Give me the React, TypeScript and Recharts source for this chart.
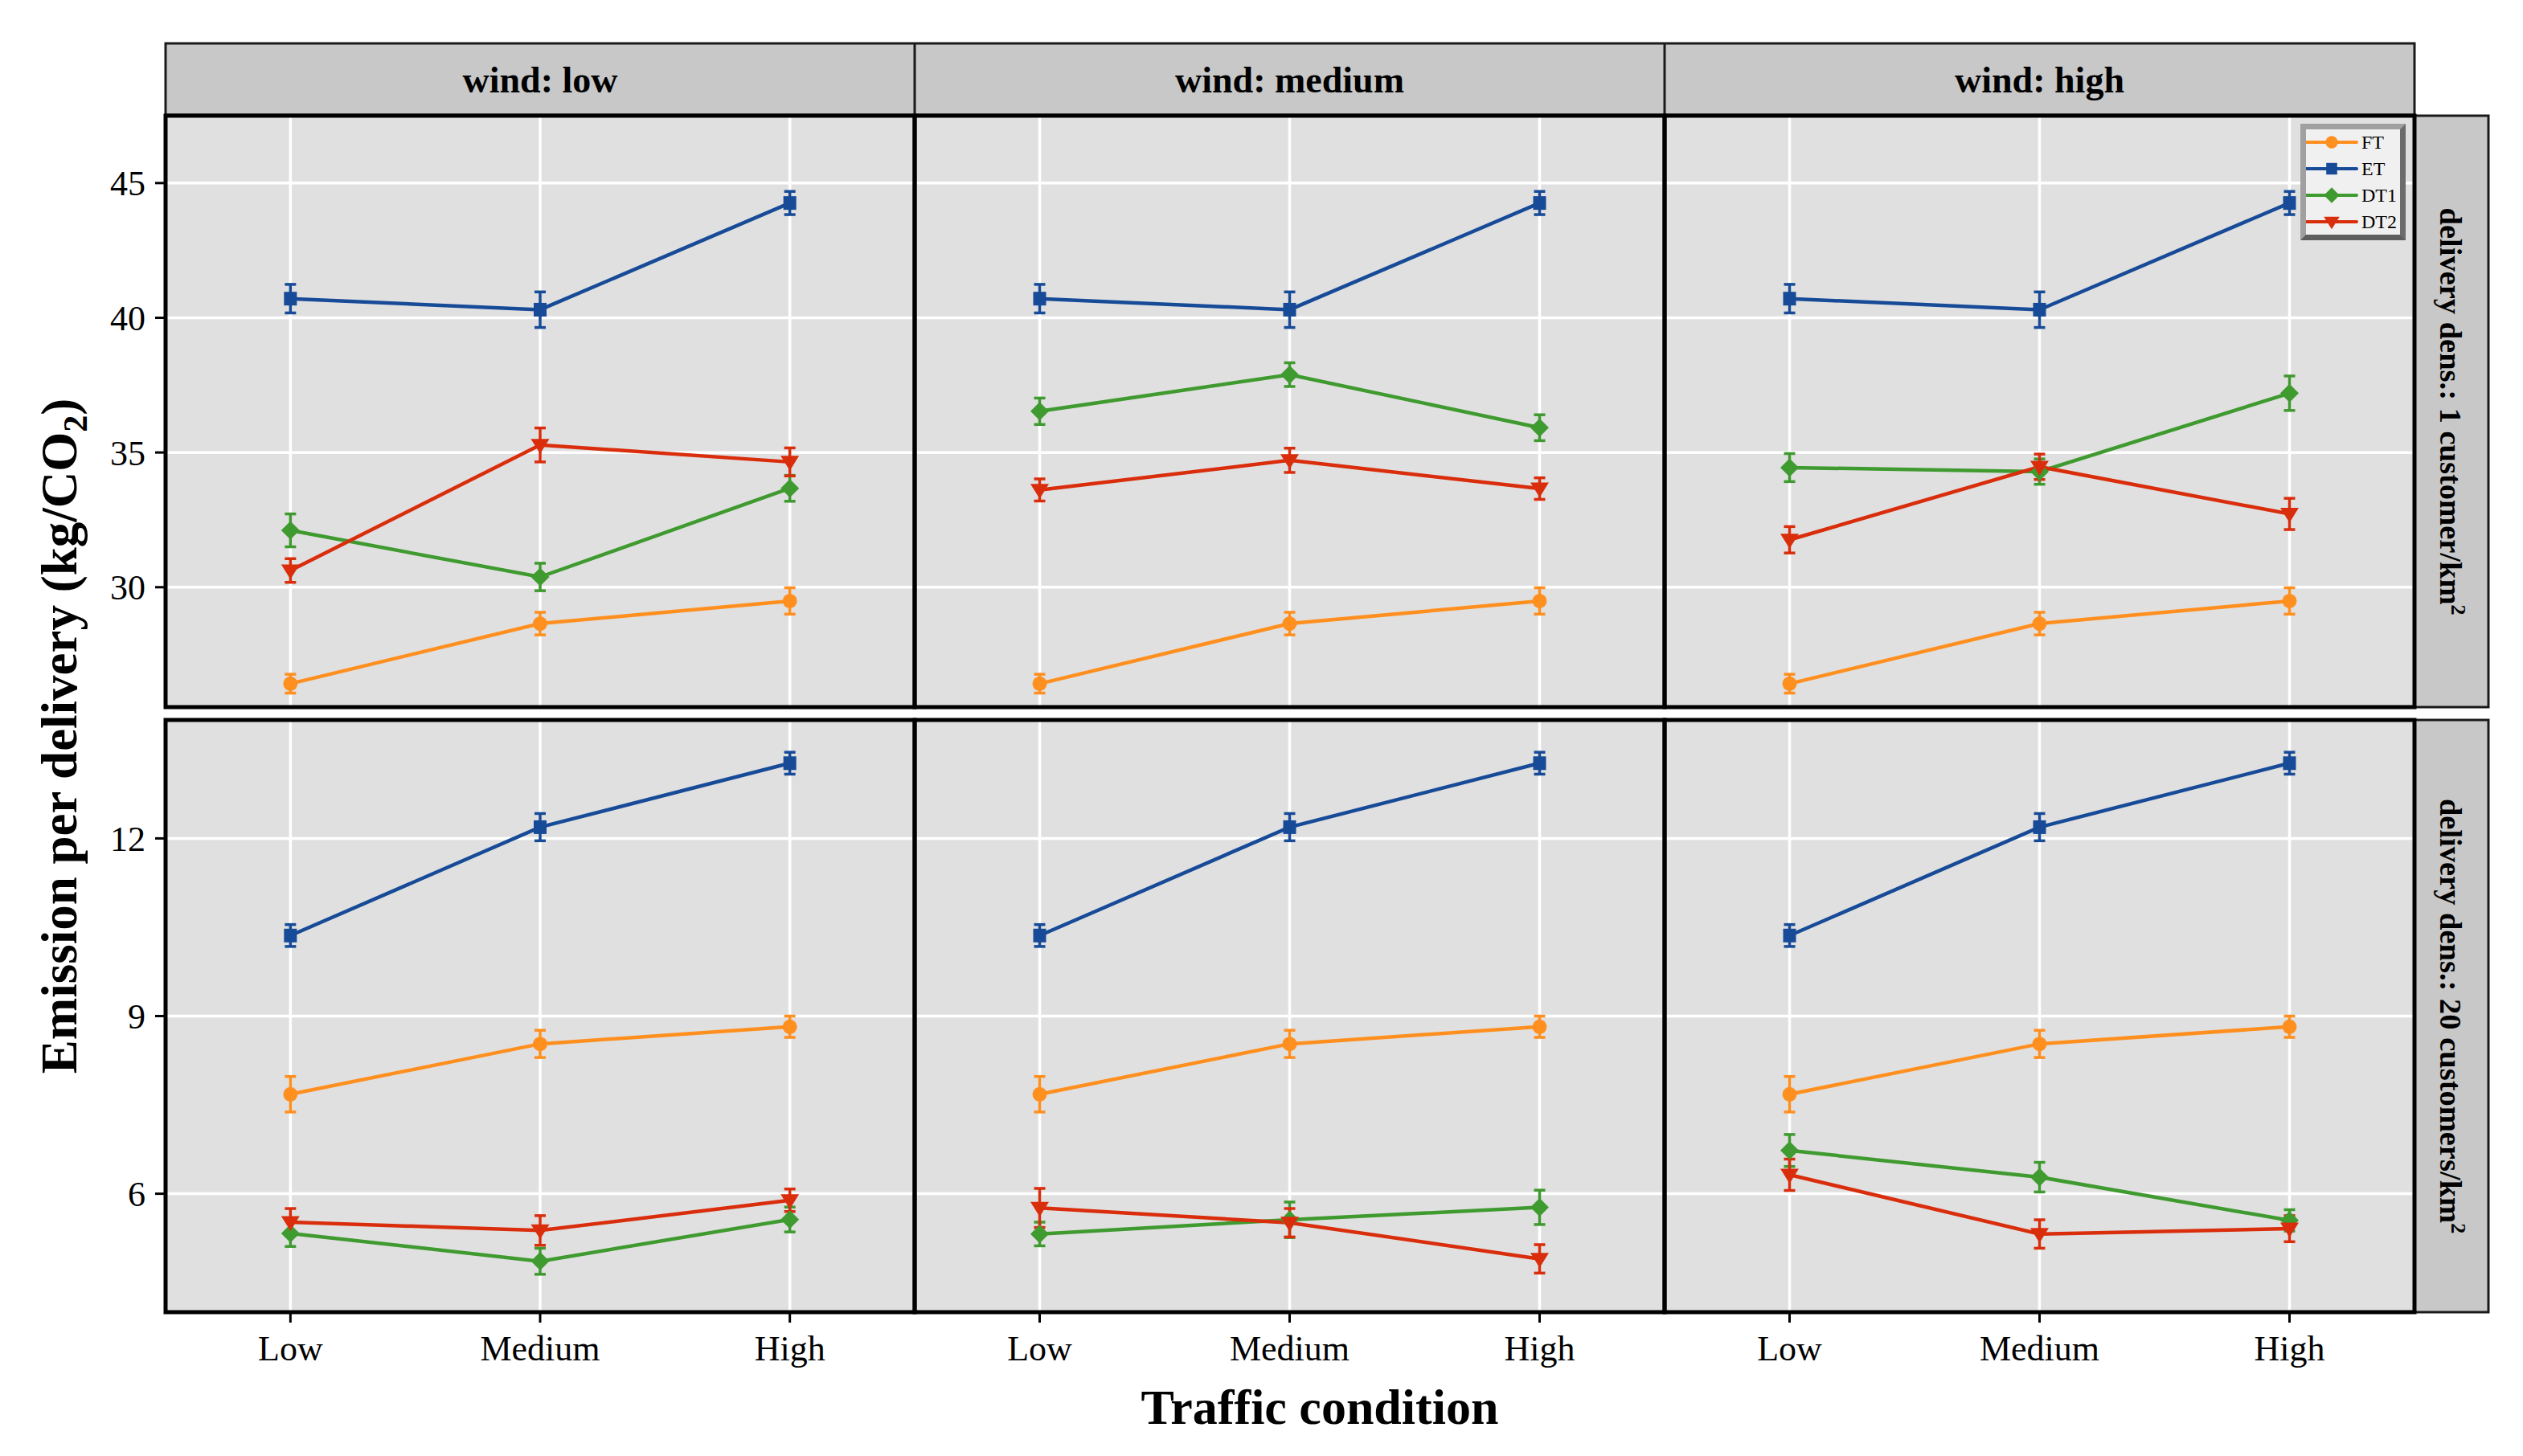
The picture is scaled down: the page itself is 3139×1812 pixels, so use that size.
import React from "react";
import { LineChart, Line, XAxis, YAxis, CartesianGrid, ErrorBar, Legend } from "recharts";

// ---------------- data ----------------
const TRAFFIC_LEVELS = ["Low", "Medium", "High"];
const WIND_LEVELS = ["low", "medium", "high"];
const DENSITY_LABELS = ["1 customer/km", "20 customers/km"];
const SERIES_NAMES = ["FT", "ET", "DT1", "DT2"];

const Y_TICKS_DENS1 = [30, 35, 40, 45];
const Y_DOMAIN_DENS1 = [25.55, 47.5];
const Y_TICKS_DENS20 = [6, 9, 12];
const Y_DOMAIN_DENS20 = [4, 14];

// delivery density 1 customer/km2 (FT and ET identical for every wind level)
const FT_DENS1 = [26.42, 28.65, 29.49];
const FT_DENS1_SE = [0.35, 0.42, 0.49];
const ET_DENS1 = [40.71, 40.3, 44.26];
const ET_DENS1_SE = [0.53, 0.66, 0.43];
const DT1_DENS1 = [
  [32.11, 30.38, 33.67],
  [36.53, 37.89, 35.92],
  [34.44, 34.29, 37.2],
];
const DT1_DENS1_SE = [
  [0.61, 0.51, 0.48],
  [0.49, 0.44, 0.48],
  [0.52, 0.47, 0.64],
];
const DT2_DENS1 = [
  [30.62, 35.28, 34.65],
  [33.61, 34.71, 33.66],
  [31.76, 34.47, 32.72],
];
const DT2_DENS1_SE = [
  [0.44, 0.63, 0.52],
  [0.41, 0.45, 0.4],
  [0.49, 0.47, 0.58],
];

// delivery density 20 customers/km2
const FT_DENS20 = [7.68, 8.53, 8.82];
const FT_DENS20_SE = [0.3, 0.23, 0.18];
const ET_DENS20 = [10.36, 12.19, 13.27];
const ET_DENS20_SE = [0.185, 0.23, 0.185];
const DT1_DENS20 = [
  [5.33, 4.86, 5.565],
  [5.32, 5.56, 5.77],
  [6.73, 6.28, 5.55],
];
const DT1_DENS20_SE = [
  [0.22, 0.22, 0.21],
  [0.2, 0.3, 0.29],
  [0.27, 0.25, 0.18],
];
const DT2_DENS20 = [
  [5.52, 5.38, 5.89],
  [5.76, 5.51, 4.9],
  [6.32, 5.32, 5.41],
];
const DT2_DENS20_SE = [
  [0.23, 0.25, 0.19],
  [0.33, 0.24, 0.24],
  [0.265, 0.24, 0.22],
];

// ---------------- style / layout ----------------
const SERIF = "'Liberation Serif', 'Times New Roman', Times, serif";
const SERIES_COLORS = ["#FF8F1F", "#174B98", "#3F9A2F", "#D92D0C"];
const SERIES_SHAPES = ["circle", "square", "diamond", "triangleDown"];
const COL_EDGES = [206, 1138, 2071, 3004];
const ROW_EDGES = [
  [144, 880],
  [896, 1633],
];
const PANEL_BG = "#E0E0E0";
const STRIP_BG = "#C8C8C8";

function buildData(row: number, wind: number) {
  const ft = row === 0 ? FT_DENS1 : FT_DENS20;
  const ftSe = row === 0 ? FT_DENS1_SE : FT_DENS20_SE;
  const et = row === 0 ? ET_DENS1 : ET_DENS20;
  const etSe = row === 0 ? ET_DENS1_SE : ET_DENS20_SE;
  const d1 = (row === 0 ? DT1_DENS1 : DT1_DENS20)[wind];
  const d1Se = (row === 0 ? DT1_DENS1_SE : DT1_DENS20_SE)[wind];
  const d2 = (row === 0 ? DT2_DENS1 : DT2_DENS20)[wind];
  const d2Se = (row === 0 ? DT2_DENS1_SE : DT2_DENS20_SE)[wind];
  return TRAFFIC_LEVELS.map((t, i) => ({
    idx: i,
    traffic: t,
    FT: ft[i],
    FT_se: ftSe[i],
    ET: et[i],
    ET_se: etSe[i],
    DT1: d1[i],
    DT1_se: d1Se[i],
    DT2: d2[i],
    DT2_se: d2Se[i],
  }));
}

function Marker({ shape, cx, cy, color, s = 1 }: any) {
  switch (shape) {
    case "circle":
      return <circle cx={cx} cy={cy} r={9 * s} fill={color} />;
    case "square":
      return <rect x={cx - 8 * s} y={cy - 8.5 * s} width={16 * s} height={17 * s} fill={color} />;
    case "diamond":
      return (
        <polygon
          points={`${cx},${cy - 11.5 * s} ${cx + 11.5 * s},${cy} ${cx},${cy + 11.5 * s} ${cx - 11.5 * s},${cy}`}
          fill={color}
        />
      );
    default:
      return (
        <polygon
          points={`${cx - 11.5 * s},${cy - 7.5 * s} ${cx + 11.5 * s},${cy - 7.5 * s} ${cx},${cy + 11 * s}`}
          fill={color}
        />
      );
  }
}

function makeDot(shape: string, color: string) {
  return (props: any) => {
    const { cx, cy, index } = props;
    if (cx == null || cy == null) return <g key={`e-${index}`} />;
    return (
      <g key={`d-${shape}-${index}`}>
        <Marker shape={shape} cx={cx} cy={cy} color={color} />
      </g>
    );
  };
}

const emptyTick = (p: any) => <g key={`t-${p && p.index}`} />;

function LegendBox(props: any) {
  const payload = (props && props.payload) || [];
  const items = SERIES_NAMES.map((name, i) => {
    const p = payload.find((e: any) => e.value === name || e.dataKey === name);
    return { name, color: p ? p.color : SERIES_COLORS[i], shape: SERIES_SHAPES[i] };
  });
  return (
    <div
      style={{
        width: 131,
        height: 145,
        boxSizing: "border-box",
        borderStyle: "solid",
        borderWidth: 7,
        borderColor: "#a0a0a0 #6c6c6c #5e5e5e #a0a0a0",
        background: "#F0F0F0",
      }}
    >
      <svg width={117} height={131} style={{ display: "block" }}>
        {items.map((it, i) => {
          const y = 16 + 33 * i;
          return (
            <g key={it.name}>
              <line x1={0} x2={63} y1={y} y2={y} stroke={it.color} strokeWidth={4} strokeLinecap="round" />
              <Marker shape={it.shape} cx={32} cy={y} color={it.color} s={0.85} />
              <text x={69} y={y + 8} fontFamily={SERIF} fontSize={24} fill="#000">
                {it.name}
              </text>
            </g>
          );
        })}
      </svg>
    </div>
  );
}

function Panel({ row, col }: { row: number; col: number }) {
  const left = COL_EDGES[col];
  const right = COL_EDGES[col + 1];
  const [top, bottom] = ROW_EDGES[row];
  const yAxisW = col === 0 ? left : 0;
  const xAxisH = row === 1 ? 90 : 0;
  const w = right - left + yAxisW;
  const h = bottom - top + xAxisH;
  const data = buildData(row, col);
  const yTicks = row === 0 ? Y_TICKS_DENS1 : Y_TICKS_DENS20;
  const yDomain = row === 0 ? Y_DOMAIN_DENS1 : Y_DOMAIN_DENS20;
  const tickFont = { fontSize: 44, fontFamily: SERIF, fill: "#000" };
  return (
    <div style={{ position: "absolute", left: left - yAxisW, top, width: w, height: h }}>
      <LineChart width={w} height={h} data={data} margin={{ top: 0, right: 0, bottom: 0, left: 0 }}>
        <CartesianGrid fill={PANEL_BG} fillOpacity={1} stroke="#FFFFFF" strokeWidth={3.5} />
        {row === 1 ? (
          <XAxis
            type="number"
            dataKey="idx"
            domain={[-0.5, 2.5]}
            allowDataOverflow
            ticks={[0, 1, 2]}
            tickFormatter={(v: number) => TRAFFIC_LEVELS[v]}
            height={xAxisH}
            axisLine={false}
            tickLine={{ stroke: "#000", strokeWidth: 3 }}
            tickSize={13}
            tickMargin={16}
            tick={tickFont}
            interval={0}
          />
        ) : (
          <XAxis
            type="number"
            dataKey="idx"
            domain={[-0.5, 2.5]}
            allowDataOverflow
            ticks={[0, 1, 2]}
            height={0}
            axisLine={false}
            tickLine={false}
            tick={emptyTick}
            interval={0}
          />
        )}
        {col === 0 ? (
          <YAxis
            type="number"
            domain={yDomain}
            allowDataOverflow
            ticks={yTicks}
            width={yAxisW}
            axisLine={false}
            tickLine={{ stroke: "#000", strokeWidth: 3 }}
            tickSize={13}
            tickMargin={12}
            tick={tickFont}
            interval={0}
          />
        ) : (
          <YAxis
            type="number"
            domain={yDomain}
            allowDataOverflow
            ticks={yTicks}
            width={0}
            mirror
            axisLine={false}
            tickLine={{ stroke: "#000", strokeWidth: 4 }}
            tickSize={11}
            tick={emptyTick}
            interval={0}
          />
        )}
        {SERIES_NAMES.map((name, i) => (
          <Line
            key={name}
            type="linear"
            dataKey={name}
            name={name}
            stroke={SERIES_COLORS[i]}
            strokeWidth={4.5}
            dot={makeDot(SERIES_SHAPES[i], SERIES_COLORS[i])}
            activeDot={false}
            isAnimationActive={false}
          >
            <ErrorBar
              dataKey={`${name}_se`}
              direction="y"
              width={7}
              strokeWidth={3.5}
              stroke={SERIES_COLORS[i]}
              isAnimationActive={false}
            />
          </Line>
        ))}
        {row === 0 && col === 2 ? (
          <Legend
            layout="horizontal"
            verticalAlign="middle"
            align="center"
            content={(p: any) => <LegendBox {...p} />}
            wrapperStyle={{ position: "absolute", left: 791, top: 10, width: 131, height: 145, margin: 0 }}
          />
        ) : null}
      </LineChart>
    </div>
  );
}

function Decorations() {
  const stripTop = 54;
  const stripBottom = 143;
  const colCenters = [0, 1, 2].map((c) => (COL_EDGES[c] + COL_EDGES[c + 1]) / 2);
  return (
    <svg
      width={3139}
      height={1812}
      style={{ position: "absolute", left: 0, top: 0, pointerEvents: "none" }}
    >
      {/* top strips */}
      <rect
        x={COL_EDGES[0]}
        y={stripTop}
        width={COL_EDGES[3] - COL_EDGES[0]}
        height={stripBottom - stripTop}
        fill={STRIP_BG}
        stroke="#1a1a1a"
        strokeWidth={3}
      />
      {[1, 2].map((c) => (
        <line key={c} x1={COL_EDGES[c]} x2={COL_EDGES[c]} y1={stripTop} y2={stripBottom} stroke="#1a1a1a" strokeWidth={3} />
      ))}
      {WIND_LEVELS.map((w, c) => (
        <text
          key={w}
          x={colCenters[c]}
          y={115}
          textAnchor="middle"
          fontFamily={SERIF}
          fontWeight="bold"
          fontSize={46}
          fill="#000"
        >
          {`wind: ${w}`}
        </text>
      ))}
      {/* right strips */}
      {ROW_EDGES.map(([t, b], r) => {
        const cy = (t + b) / 2;
        return (
          <g key={r}>
            <rect x={3004} y={t} width={92} height={b - t} fill={STRIP_BG} stroke="#1a1a1a" strokeWidth={3} />
            <text
              x={3036}
              y={cy}
              transform={`rotate(90, 3036, ${cy})`}
              textAnchor="middle"
              fontFamily={SERIF}
              fontWeight="bold"
              fontSize={38.5}
              fill="#000"
            >
              {`delivery dens.: ${DENSITY_LABELS[r]}`}
              <tspan dy={-14} fontSize={26}>
                2
              </tspan>
            </text>
          </g>
        );
      })}
      {/* panel frames */}
      {ROW_EDGES.map(([t, b], r) =>
        [0, 1, 2].map((c) => (
          <rect
            key={`${r}-${c}`}
            x={COL_EDGES[c]}
            y={t}
            width={COL_EDGES[c + 1] - COL_EDGES[c]}
            height={b - t}
            fill="none"
            stroke="#000"
            strokeWidth={5}
          />
        ))
      )}
      {/* axis titles */}
      <text x={1642} y={1772} textAnchor="middle" fontFamily={SERIF} fontWeight="bold" fontSize={62} fill="#000">
        Traffic condition
      </text>
      <text
        x={95}
        y={916}
        transform="rotate(-90, 95, 916)"
        textAnchor="middle"
        fontFamily={SERIF}
        fontWeight="bold"
        fontSize={63}
        fill="#000"
      >
        Emission per delivery (kg/CO
        <tspan dy={13} fontSize={42}>
          2
        </tspan>
        <tspan dy={-13}>)</tspan>
      </text>
    </svg>
  );
}

export default function App() {
  return (
    <div style={{ position: "absolute", left: 0, top: 0, width: 3139, height: 1812, background: "#fff" }}>
      {[0, 1].map((r) => [0, 1, 2].map((c) => <Panel key={`${r}-${c}`} row={r} col={c} />))}
      <Decorations />
    </div>
  );
}
